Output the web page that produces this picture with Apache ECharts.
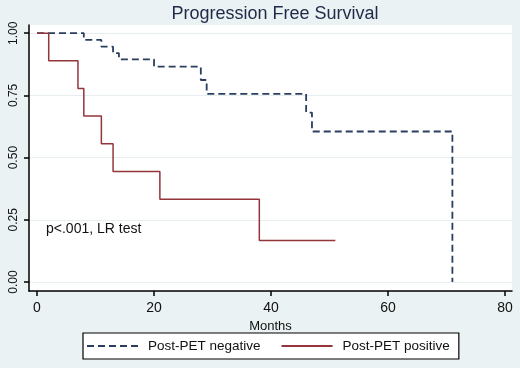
<!DOCTYPE html>
<html>
<head>
<meta charset="utf-8">
<script src="https://cdn.jsdelivr.net/npm/echarts@6/dist/echarts.min.js"></script>
<style>
  html, body { margin: 0; padding: 0; background: #eaf2f3; }
  #main { width: 520px; height: 368px; }
</style>
</head>
<body>
<div id="main"></div>
<script>
// Kaplan-Meier steps
var negMonths = [0, 8, 11, 13, 14, 20, 28, 29, 46, 47, 71];
var negSurv = [1, 0.973, 0.946, 0.92, 0.895, 0.866, 0.812, 0.756, 0.681, 0.605, 0];
var posMonths = [0, 2, 7, 8, 11, 13, 21, 38, 51];
var posSurv = [1, 0.889, 0.778, 0.667, 0.556, 0.444, 0.333, 0.167, 0.167];
var xTicks = [0, 20, 40, 60, 80];
var yTicks = [0, 0.25, 0.5, 0.75, 1];

function pairs(xs, ys) {
  var out = [];
  for (var i = 0; i < xs.length; i++) out.push([xs[i], ys[i]]);
  return out;
}

var chart = echarts.init(document.getElementById('main'));
var font = 'Arial, "Liberation Sans", sans-serif';

var option = {
  backgroundColor: '#eaf2f3',
  animation: false,
  title: {
    text: 'Progression Free Survival',
    left: 270,
    textAlign: 'center',
    top: 0,
    textStyle: { fontFamily: font, fontSize: 18, fontWeight: 'normal', color: '#1f2a48' }
  },
  grid: {
    left: 29, top: 25, right: 8, bottom: 77,
    show: true, backgroundColor: '#ffffff', borderWidth: 0
  },
  xAxis: {
    type: 'value',
    min: -1.37, max: 81.19,
    name: 'Months',
    nameLocation: 'middle',
    nameGap: 27,
    nameTextStyle: { fontFamily: font, fontSize: 13, color: '#111' },
    axisLine: { show: true, onZero: false, lineStyle: { color: '#000', width: 1.5 } },
    axisTick: { show: true, inside: false, length: 5, customValues: xTicks, lineStyle: { color: '#000', width: 1.5 } },
    axisLabel: { customValues: xTicks, fontFamily: font, fontSize: 14, color: '#111', margin: 10 },
    splitLine: { show: false }
  },
  yAxis: {
    type: 'value',
    min: -0.036, max: 1.033,
    axisLine: { show: true, onZero: false, lineStyle: { color: '#000', width: 1.5 } },
    axisTick: { show: true, inside: false, length: 5, customValues: yTicks, lineStyle: { color: '#000', width: 1.5 } },
    axisLabel: {
      customValues: yTicks, rotate: 90, fontFamily: font, fontSize: 12, color: '#111', margin: 9,
      formatter: function (v) { return v.toFixed(2); }
    },
    splitLine: { show: true, lineStyle: { color: '#e6eef0', width: 1 } }
  },
  legend: {
    left: 83, top: 333,
    orient: 'horizontal',
    backgroundColor: '#ffffff',
    borderColor: '#000', borderWidth: 1.2,
    padding: [6, 9, 6, 3],
    itemWidth: 51, itemHeight: 14, itemGap: 20,
    itemStyle: { opacity: 0 },
    textStyle: { fontFamily: font, fontSize: 13.5, color: '#111', padding: [0, 0, 0, 5] },
    data: ['Post-PET negative', 'Post-PET positive']
  },
  graphic: [{
    type: 'text', left: 46, top: 222,
    style: { text: 'p<.001, LR test', font: '14px ' + font, fill: '#111' }
  }],
  series: [{
    name: 'Post-PET negative',
    type: 'line', step: 'end', symbol: 'none',
    data: pairs(negMonths, negSurv),
    lineStyle: { color: '#2a3f5f', width: 1.8, type: [7, 4] },
    itemStyle: { color: '#2a3f5f' }
  }, {
    name: 'Post-PET positive',
    type: 'line', step: 'end', symbol: 'none',
    data: pairs(posMonths, posSurv),
    lineStyle: { color: '#93353b', width: 1.5 },
    itemStyle: { color: '#93353b' }
  }]
};
chart.setOption(option);
</script>
</body>
</html>
